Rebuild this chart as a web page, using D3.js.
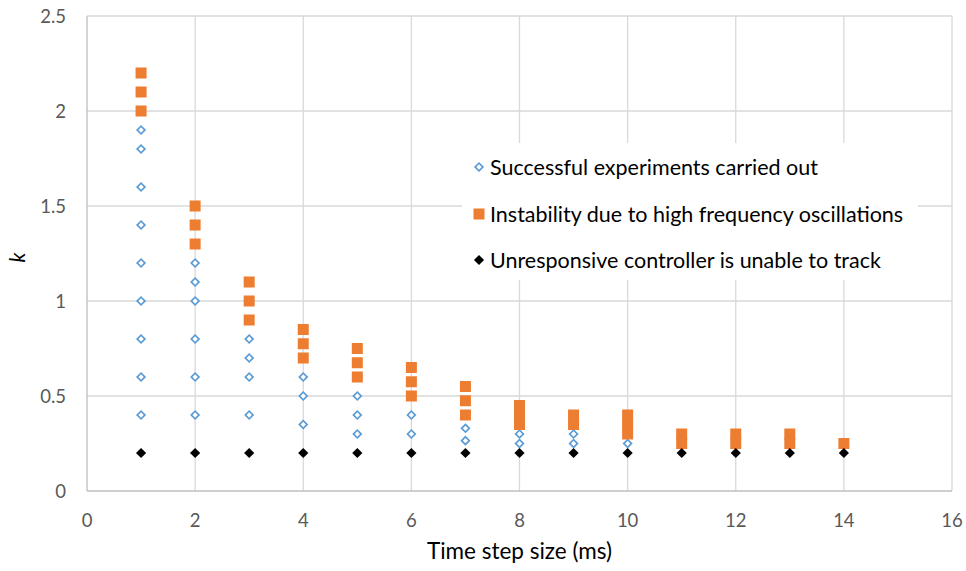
<!DOCTYPE html>
<html><head><meta charset="utf-8">
<script src="https://cdn.jsdelivr.net/npm/d3@7"></script>
<style>body{margin:0;background:#fff;} text{font-family:Lato,"Open Sans",sans-serif;}</style>
</head><body><svg id="c" width="966" height="571"></svg>
<script>
// Data
const successX = [1,1,1,1,1,1,1,1,1, 2,2,2,2,2,2, 3,3,3,3, 4,4,4, 5,5,5, 6,6, 7,7, 8,8, 9,9, 10];
const successK = [1.9,1.8,1.6,1.4,1.2,1.0,0.8,0.6,0.4, 1.2,1.1,1.0,0.8,0.6,0.4, 0.8,0.7,0.6,0.4, 0.6,0.5,0.35, 0.5,0.4,0.3, 0.4,0.3, 0.33,0.265, 0.3,0.25, 0.3,0.25, 0.25];
const unstableX = [1,1,1, 2,2,2, 3,3,3, 4,4,4, 5,5,5, 6,6,6, 7,7,7, 8,8,8, 9,9, 10,10,10, 11,11, 12,12, 13,13, 14];
const unstableK = [2.2,2.1,2.0, 1.5,1.4,1.3, 1.1,1.0,0.9, 0.85,0.775,0.7, 0.75,0.675,0.6, 0.65,0.575,0.5, 0.55,0.475,0.4, 0.45,0.4,0.35, 0.4,0.35, 0.4,0.35,0.3, 0.3,0.25, 0.3,0.25, 0.3,0.25, 0.25];
const unresponsiveX = [1,2,3,4,5,6,7,8,9,10,11,12,13,14];
const unresponsiveK = [0.2,0.2,0.2,0.2,0.2,0.2,0.2,0.2,0.2,0.2,0.2,0.2,0.2,0.2];
const xTicks = [0,2,4,6,8,10,12,14,16];
const yTicks = [0,0.5,1,1.5,2,2.5];
const seriesNames = ["Successful experiments carried out","Instability due to high frequency oscillations","Unresponsive controller is unable to track"];

const svg = d3.select("#c");
const x = d3.scaleLinear().domain([0,16]).range([87,952]);
const y = d3.scaleLinear().domain([0,2.5]).range([491,16]);

// gridlines
svg.append("g").selectAll("line").data(yTicks.filter(d=>d>0)).join("line")
  .attr("x1",x(0)).attr("x2",x(16)).attr("y1",d=>y(d)).attr("y2",d=>y(d))
  .attr("stroke","#d9d9d9").attr("stroke-width",1.3);
svg.append("g").selectAll("line").data(xTicks.filter(d=>d>0)).join("line")
  .attr("y1",y(0)).attr("y2",y(2.5)).attr("x1",d=>x(d)).attr("x2",d=>x(d))
  .attr("stroke","#d9d9d9").attr("stroke-width",1.3);
// axes lines
svg.append("line").attr("x1",x(0)).attr("x2",x(16)).attr("y1",y(0)).attr("y2",y(0)).attr("stroke","#bfbfbf").attr("stroke-width",1.3);
svg.append("line").attr("x1",x(0)).attr("x2",x(0)).attr("y1",y(0)).attr("y2",y(2.5)).attr("stroke","#bfbfbf").attr("stroke-width",1.3);

// tick labels
svg.append("g").selectAll("text").data(xTicks).join("text")
  .attr("x",d=>x(d)).attr("y",y(0)+36).attr("text-anchor","middle")
  .attr("font-size",18.5).attr("fill","#595959").text(d=>d);
svg.append("g").selectAll("text").data(yTicks).join("text")
  .attr("x",x(0)-21).attr("y",d=>y(d)+6.5).attr("text-anchor","end")
  .attr("font-size",18.5).attr("fill","#595959").text(d=>d);

// axis titles
svg.append("text").attr("x",(x(0)+x(16))/2).attr("y",559).attr("text-anchor","middle")
  .attr("font-size",22.5).attr("fill","#000").text("Time step size (ms)");
svg.append("text").attr("transform",`translate(25,${(y(0)+y(2.5))/2 + 4}) rotate(-90)`)
  .attr("text-anchor","middle").attr("font-size",21).attr("font-style","italic").text("k");

// legend background
svg.append("rect").attr("x",462).attr("y",143).attr("width",456).attr("height",137).attr("fill","#fff");

function drawSucc(sel){ sel.attr("d", d3.symbol().type(d3.symbolSquare).size(30)()).attr("fill","#fff").attr("stroke","#5b9bd5").attr("stroke-width",1.7); }
// points
const g = svg.append("g");
g.selectAll(".s").data(successX.map((v,i)=>[v,successK[i]])).join("path")
  .attr("transform",d=>`translate(${x(d[0])},${y(d[1])}) rotate(45)`).call(drawSucc);
g.selectAll(".u").data(unstableX.map((v,i)=>[v,unstableK[i]])).join("rect").attr("class","u")
  .attr("x",d=>x(d[0])-5.5).attr("y",d=>y(d[1])-5.5).attr("width",11).attr("height",11).attr("fill","#ed7d31");
g.selectAll(".b").data(unresponsiveX.map((v,i)=>[v,unresponsiveK[i]])).join("path").attr("class","b")
  .attr("transform",d=>`translate(${x(d[0])},${y(d[1])}) rotate(45)`)
  .attr("d", d3.symbol().type(d3.symbolSquare).size(52)()).attr("fill","#000");

// legend
const ly = [167,214,260];
const lg = svg.append("g");
lg.append("path").attr("transform",`translate(479,${ly[0]}) rotate(45)`).call(drawSucc);
lg.append("rect").attr("x",479-5.5).attr("y",ly[1]-5.5).attr("width",11).attr("height",11).attr("fill","#ed7d31");
lg.append("path").attr("transform",`translate(479,${ly[2]}) rotate(45)`).attr("d", d3.symbol().type(d3.symbolSquare).size(52)()).attr("fill","#000");
lg.selectAll("text").data(seriesNames).join("text")
  .attr("x",490).attr("y",(d,i)=>ly[i]+7.5).attr("font-size",21.5).attr("fill","#000").text(d=>d);
</script></body></html>
